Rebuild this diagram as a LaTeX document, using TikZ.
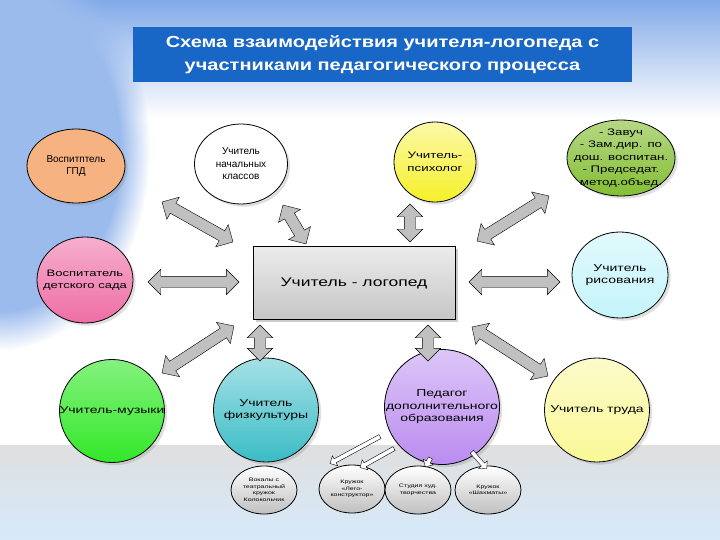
\documentclass[tikz,border=0pt]{standalone}
\usepackage{fontspec}
\setmainfont{Liberation Sans}
\newfontfamily\widefont[FakeStretch=1.4]{Liberation Sans}
\newfontfamily\titlefont[FakeStretch=1.25]{Liberation Sans}
\usetikzlibrary{calc,positioning,shapes.geometric,shapes.arrows,shadows,fadings}
\definecolor{titleblue}{RGB}{24,102,198}
\definecolor{bgblue}{RGB}{130,170,232}
\definecolor{bglight}{RGB}{214,234,250}
\definecolor{linkgray}{RGB}{192,192,192}
\definecolor{cpeach}{RGB}{246,178,128}
\definecolor{cyellow}{RGB}{246,240,40}
\definecolor{cleaf}{RGB}{132,190,52}
\definecolor{cpink}{RGB}{238,110,165}
\definecolor{cice}{RGB}{196,244,250}
\definecolor{cgreen}{RGB}{50,232,40}
\definecolor{cteal}{RGB}{58,188,198}
\definecolor{clilac}{RGB}{186,140,240}
\definecolor{cpale}{RGB}{250,248,150}
\tikzset{
  role/.style={ellipse,draw=black,thick,inner sep=0pt,drop shadow={opacity=0.25}},
  rtext/.style={align=center,inner sep=0pt,font=\widefont\fontsize{10}{12.5}\selectfont},
  ntext/.style={rtext,font=\fontsize{10}{12.5}\selectfont},
  club/.style={ellipse,draw=black,thick,align=center,inner sep=0pt,
    minimum width=66pt,minimum height=48pt,top color=white,bottom color=gray!50,
    font=\widefont\fontsize{5}{6.5}\selectfont},
  link/.style={double arrow,draw=black,fill=linkgray,inner xsep=0pt,inner ysep=5.5pt,
    double arrow head extend=7pt},
  feed/.style={single arrow,draw=black,fill=white,inner xsep=0pt,inner ysep=2pt,
    single arrow head extend=3.5pt}
}
% block arrow between two points
\newcommand\twoway[2]{%
  \path let \p1=(#1), \p2=(#2), \n1={atan2(\y2-\y1,\x2-\x1)},
    \n2={veclen(\x2-\x1,\y2-\y1)} in
    node[link,minimum height=\n2,rotate=\n1] at ($(#1)!.5!(#2)$) {};}
\newcommand\oneway[2]{%
  \path let \p1=(#1), \p2=(#2), \n1={atan2(\y2-\y1,\x2-\x1)},
    \n2={veclen(\x2-\x1,\y2-\y1)} in
    node[feed,minimum height=\n2,rotate=\n1] at ($(#1)!.5!(#2)$) {};}
\begin{document}
\begin{tikzpicture}[x=1pt,y=-1pt]
  \useasboundingbox (0,0) rectangle (720,540);
  % background
  \fill[white] (0,0) rectangle (720,540);
  \shade[top color=bgblue,bottom color=white] (0,0) rectangle (720,118);
  \fill[bgblue!80,path fading=circle with fuzzy edge 20 percent] (0,150) ellipse (150pt and 200pt);
  \shade[top color=gray!25,bottom color=bglight] (0,445) rectangle (720,540);
  % title
  \node[fill=titleblue,text=white,minimum width=499pt,minimum height=55pt,align=center,
    font=\titlefont\bfseries\fontsize{16}{23}\selectfont] (title) at (382.5,54.5)
    {Схема взаимодействия учителя-логопеда с\\участниками педагогического процесса};
  % centre
  \node[draw=black,thick,minimum width=202pt,minimum height=73pt,top color=gray!15,
    bottom color=gray!45,drop shadow={opacity=0.4},font=\widefont\fontsize{12.5}{15}\selectfont]
    (logo) at (354,283) {Учитель - логопед};
  % upper row
  \node[role,fill=cpeach,minimum width=98pt,minimum height=74pt,
    label={[ntext]center:Воспитптель\\ГПД}] (gpd) at (76,166) {};
  \node[role,fill=white,minimum width=93pt,minimum height=80pt,
    label={[ntext]center:Учитель\\начальных\\классов}] (prim) at (241,164) {};
  \node[role,top color=cyellow!40,bottom color=cyellow,minimum width=82pt,minimum height=80pt,
    label={[rtext,font=\widefont\fontsize{9.5}{12.5}\selectfont]center:Учитель-\\психолог}]
    (psy) at (435,162) {};
  \node[role,top color=cleaf!60,bottom color=cleaf,minimum width=108pt,minimum height=76pt,
    label={[rtext,font=\widefont\fontsize{9.5}{12.4}\selectfont]center:- Завуч\\- Зам.дир. по\\дош. воспитан.\\- Председат.\\метод.объед.}]
    (head) at (621,158) {};
  % middle row
  \node[role,top color=cpink!55,bottom color=cpink,minimum width=96pt,minimum height=86pt,
    label={[rtext,font=\widefont\fontsize{9.3}{12.5}\selectfont]center:Воспитатель\\детского сада}]
    (kind) at (85,280) {};
  \node[role,top color=cice!50,bottom color=cice,minimum width=96pt,minimum height=86pt,
    label={[rtext]center:Учитель\\рисования}] (art) at (620,275) {};
  % lower row
  \node[role,top color=cgreen!60,bottom color=cgreen,minimum width=105pt,minimum height=103pt,
    label={[rtext]center:Учитель-музыки}] (mus) at (112,411) {};
  \node[role,top color=cteal!45,bottom color=cteal,minimum width=105pt,minimum height=104pt,
    label={[rtext]center:Учитель\\физкультуры}] (pe) at (266,410) {};
  \node[role,top color=clilac!50,bottom color=clilac,minimum width=115pt,minimum height=115pt,
    label={[rtext]center:Педагог\\дополнительного\\образования}] (add) at (442,407) {};
  \node[role,top color=cpale!50,bottom color=cpale,minimum width=105pt,minimum height=104pt,
    label={[rtext]center:Учитель труда}] (lab) at (597,410) {};
  % clubs
  \node[club] (voc) at (264,490) {Вокалы с\\театральный\\кружок\\Колокольчик};
  \node[club] (lego) at (352,489) {Кружок\\«Лего-\\конструктор»};
  \node[club] (stud) at (418,490) {Студия худ.\\творчества};
  \node[club] (chess) at (488,490) {Кружок\\«Шахматы»};
  % arrow ends
  \coordinate (g1) at (162,202); \coordinate (g2) at (233,242);
  \coordinate (p1) at (283,205); \coordinate (p2) at (306,244);
  \coordinate (s1) at (410,204); \coordinate (s2) at (410,242);
  \coordinate (h1) at (549,196); \coordinate (h2) at (477,241);
  \coordinate (k1) at (148,282); \coordinate (k2) at (239,282);
  \coordinate (a1) at (469,282); \coordinate (a2) at (560,282);
  \coordinate (m1) at (162,373); \coordinate (m2) at (234,326);
  \coordinate (f1) at (260,325); \coordinate (f2) at (260,361);
  \coordinate (d1) at (428,325); \coordinate (d2) at (428,361);
  \coordinate (t1) at (472,327); \coordinate (t2) at (548,376);
  \coordinate (v1) at (381,436); \coordinate (v2) at (331,463);
  \coordinate (l1) at (395,448); \coordinate (l2) at (361,467);
  \coordinate (u1) at (431,457); \coordinate (u2) at (426,466);
  \coordinate (c1) at (471,451); \coordinate (c2) at (486,468);
  % links with the speech therapist
  \twoway{g1}{g2} \twoway{p1}{p2} \twoway{s1}{s2} \twoway{h1}{h2}
  \twoway{k1}{k2} \twoway{a1}{a2}
  \twoway{m1}{m2} \twoway{f1}{f2} \twoway{d1}{d2} \twoway{t1}{t2}
  % clubs of the additional teacher
  \oneway{v1}{v2} \oneway{l1}{l2} \oneway{u1}{u2} \oneway{c1}{c2}
\end{tikzpicture}
\end{document}
